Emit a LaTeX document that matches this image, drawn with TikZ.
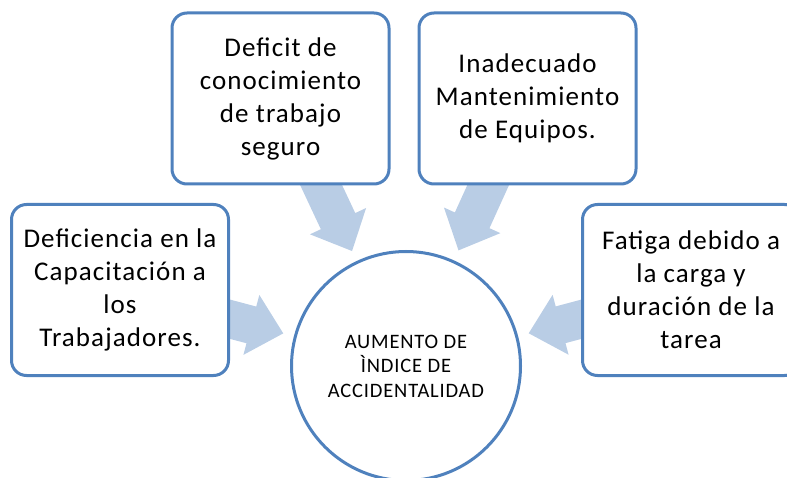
\documentclass[tikz,border=0pt]{standalone}
\usepackage{fontspec}
\setmainfont{Carlito}
\usetikzlibrary{calc,backgrounds}
\definecolor{boxline}{HTML}{4F81BD}
\definecolor{arrowfill}{HTML}{B9CDE5}
% block arrow from node #1 pointing to node #2
\newcommand\causearrow[2]{%
  \path ($(#2)!127pt!(#1)$) coordinate (t)
        ($(t)!33pt!(#1)$) coordinate (hb)
        ($(t)!95pt!(#1)$) coordinate (tl);
  \fill[arrowfill] (t) -- ($(hb)!31pt!90:(t)$) -- ($(hb)!19pt!90:(t)$)
    -- ($(tl)!19pt!90:(t)$) -- ($(tl)!19pt!-90:(t)$)
    -- ($(hb)!19pt!-90:(t)$) -- ($(hb)!31pt!-90:(t)$) -- cycle;%
}
\begin{document}
\begin{tikzpicture}[x=1pt,y=-1pt,
  causebox/.style={draw=boxline, line width=3pt, rounded corners=15pt, fill=white,
    minimum width=217pt, minimum height=171pt, align=center, inner sep=0pt,
    font=\fontsize{27}{33}\selectfont\addfontfeatures{LetterSpace=4}},
  effect/.style={circle, draw=boxline, line width=3pt, fill=white,
    minimum size=229pt, align=center, inner sep=0pt,
    font=\fontsize{20.5}{24.5}\selectfont\addfontfeatures{LetterSpace=4}}]
\useasboundingbox (0,0) rectangle (787,478);
\clip (0,0) rectangle (787,478);
\node[causebox] (b1) at (120,290) {Deficiencia en la\\Capacitación a\\los\\Trabajadores.};
\node[causebox] (b2) at (280.5,98.5) {Deficit de\\conocimiento\\de trabajo\\seguro};
\node[causebox] (b3) at (527.5,98.5) {Inadecuado\\Mantenimiento\\de Equipos.};
\node[causebox] (b4) at (691,290) {Fatiga debido a\\la carga y\\duración de la\\tarea};
\node[effect] (c) at (406,366) {AUMENTO DE\\ÌNDICE DE\\ACCIDENTALIDAD};
\begin{pgfonlayer}{background}
\causearrow{b1}{c}
\causearrow{b2}{c}
\causearrow{b3}{c}
\causearrow{b4}{c}
\end{pgfonlayer}
\end{tikzpicture}
\end{document}
